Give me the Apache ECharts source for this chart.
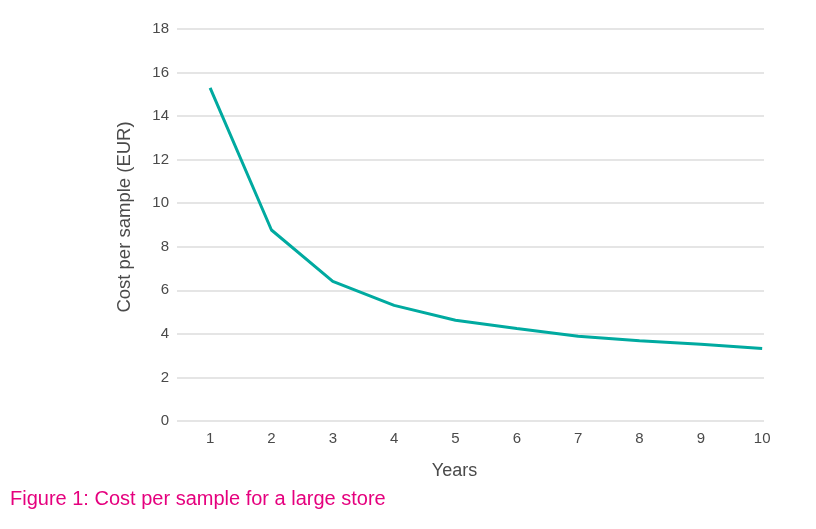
<!DOCTYPE html>
<html>
<head>
<meta charset="utf-8">
<script src="https://cdn.jsdelivr.net/npm/echarts@6/dist/echarts.min.js"></script>
<style>
html, body { margin: 0; padding: 0; background: #fff; }
#chart { width: 816px; height: 529px; }
</style>
</head>
<body>
<div id="chart"></div>
<script>
// years on the x axis and cost per sample (EUR)
const years = [1, 2, 3, 4, 5, 6, 7, 8, 9, 10]
const costPerSample = [15.3, 8.77, 6.41, 5.31, 4.63, 4.25, 3.89, 3.68, 3.52, 3.33]
const yTicks = [0, 2, 4, 6, 8, 10, 12, 14, 16, 18]

let dom = echarts.init(document.getElementById('chart'))
let textColor = '#4a4a4a'
let font = 'Liberation Sans, Arial, sans-serif'

let option = {
    title: {
        text: 'Figure 1: Cost per sample for a large store',
        left: 5,
        top: 484,
        textStyle: {
            color: '#e5007e',
            fontSize: 20,
            fontWeight: 'normal',
            fontFamily: font
        }
    },
    grid: {
        left: 177,
        right: 52,
        top: 29,
        bottom: 108
    },
    xAxis: {
        type: 'value',
        min: 0.46,
        max: 10.03,
        name: 'Years',
        nameLocation: 'middle',
        nameGap: 41,
        nameTextStyle: {
            color: textColor,
            fontSize: 18,
            fontFamily: font,
            padding: [0, 32, 0, 0]
        },
        axisLine: { show: false },
        axisTick: { show: false },
        splitLine: { show: false },
        axisLabel: {
            customValues: years,
            color: textColor,
            fontSize: 15,
            fontFamily: font,
            margin: 10
        }
    },
    yAxis: {
        type: 'value',
        min: 0,
        max: 18,
        interval: 2,
        name: 'Cost per sample (EUR)',
        nameLocation: 'middle',
        nameGap: 43,
        nameTextStyle: {
            color: textColor,
            fontSize: 18.5,
            fontFamily: font,
            padding: [0, 0, 0, 16]
        },
        axisLine: { show: false },
        axisTick: { show: false },
        axisLabel: {
            customValues: yTicks,
            color: textColor,
            fontSize: 15,
            fontFamily: font,
            margin: 8
        },
        splitLine: {
            lineStyle: { color: '#dcdcdc', width: 1.5 }
        }
    },
    series: [
        {
            type: 'line',
            name: 'Cost per sample',
            data: years.map((y, i) => [y, costPerSample[i]]),
            showSymbol: false,
            lineStyle: { color: '#00aaa0', width: 3 },
            itemStyle: { color: '#00aaa0' },
            animation: false
        }
    ]
}
dom.setOption(option)
</script>
</body>
</html>
